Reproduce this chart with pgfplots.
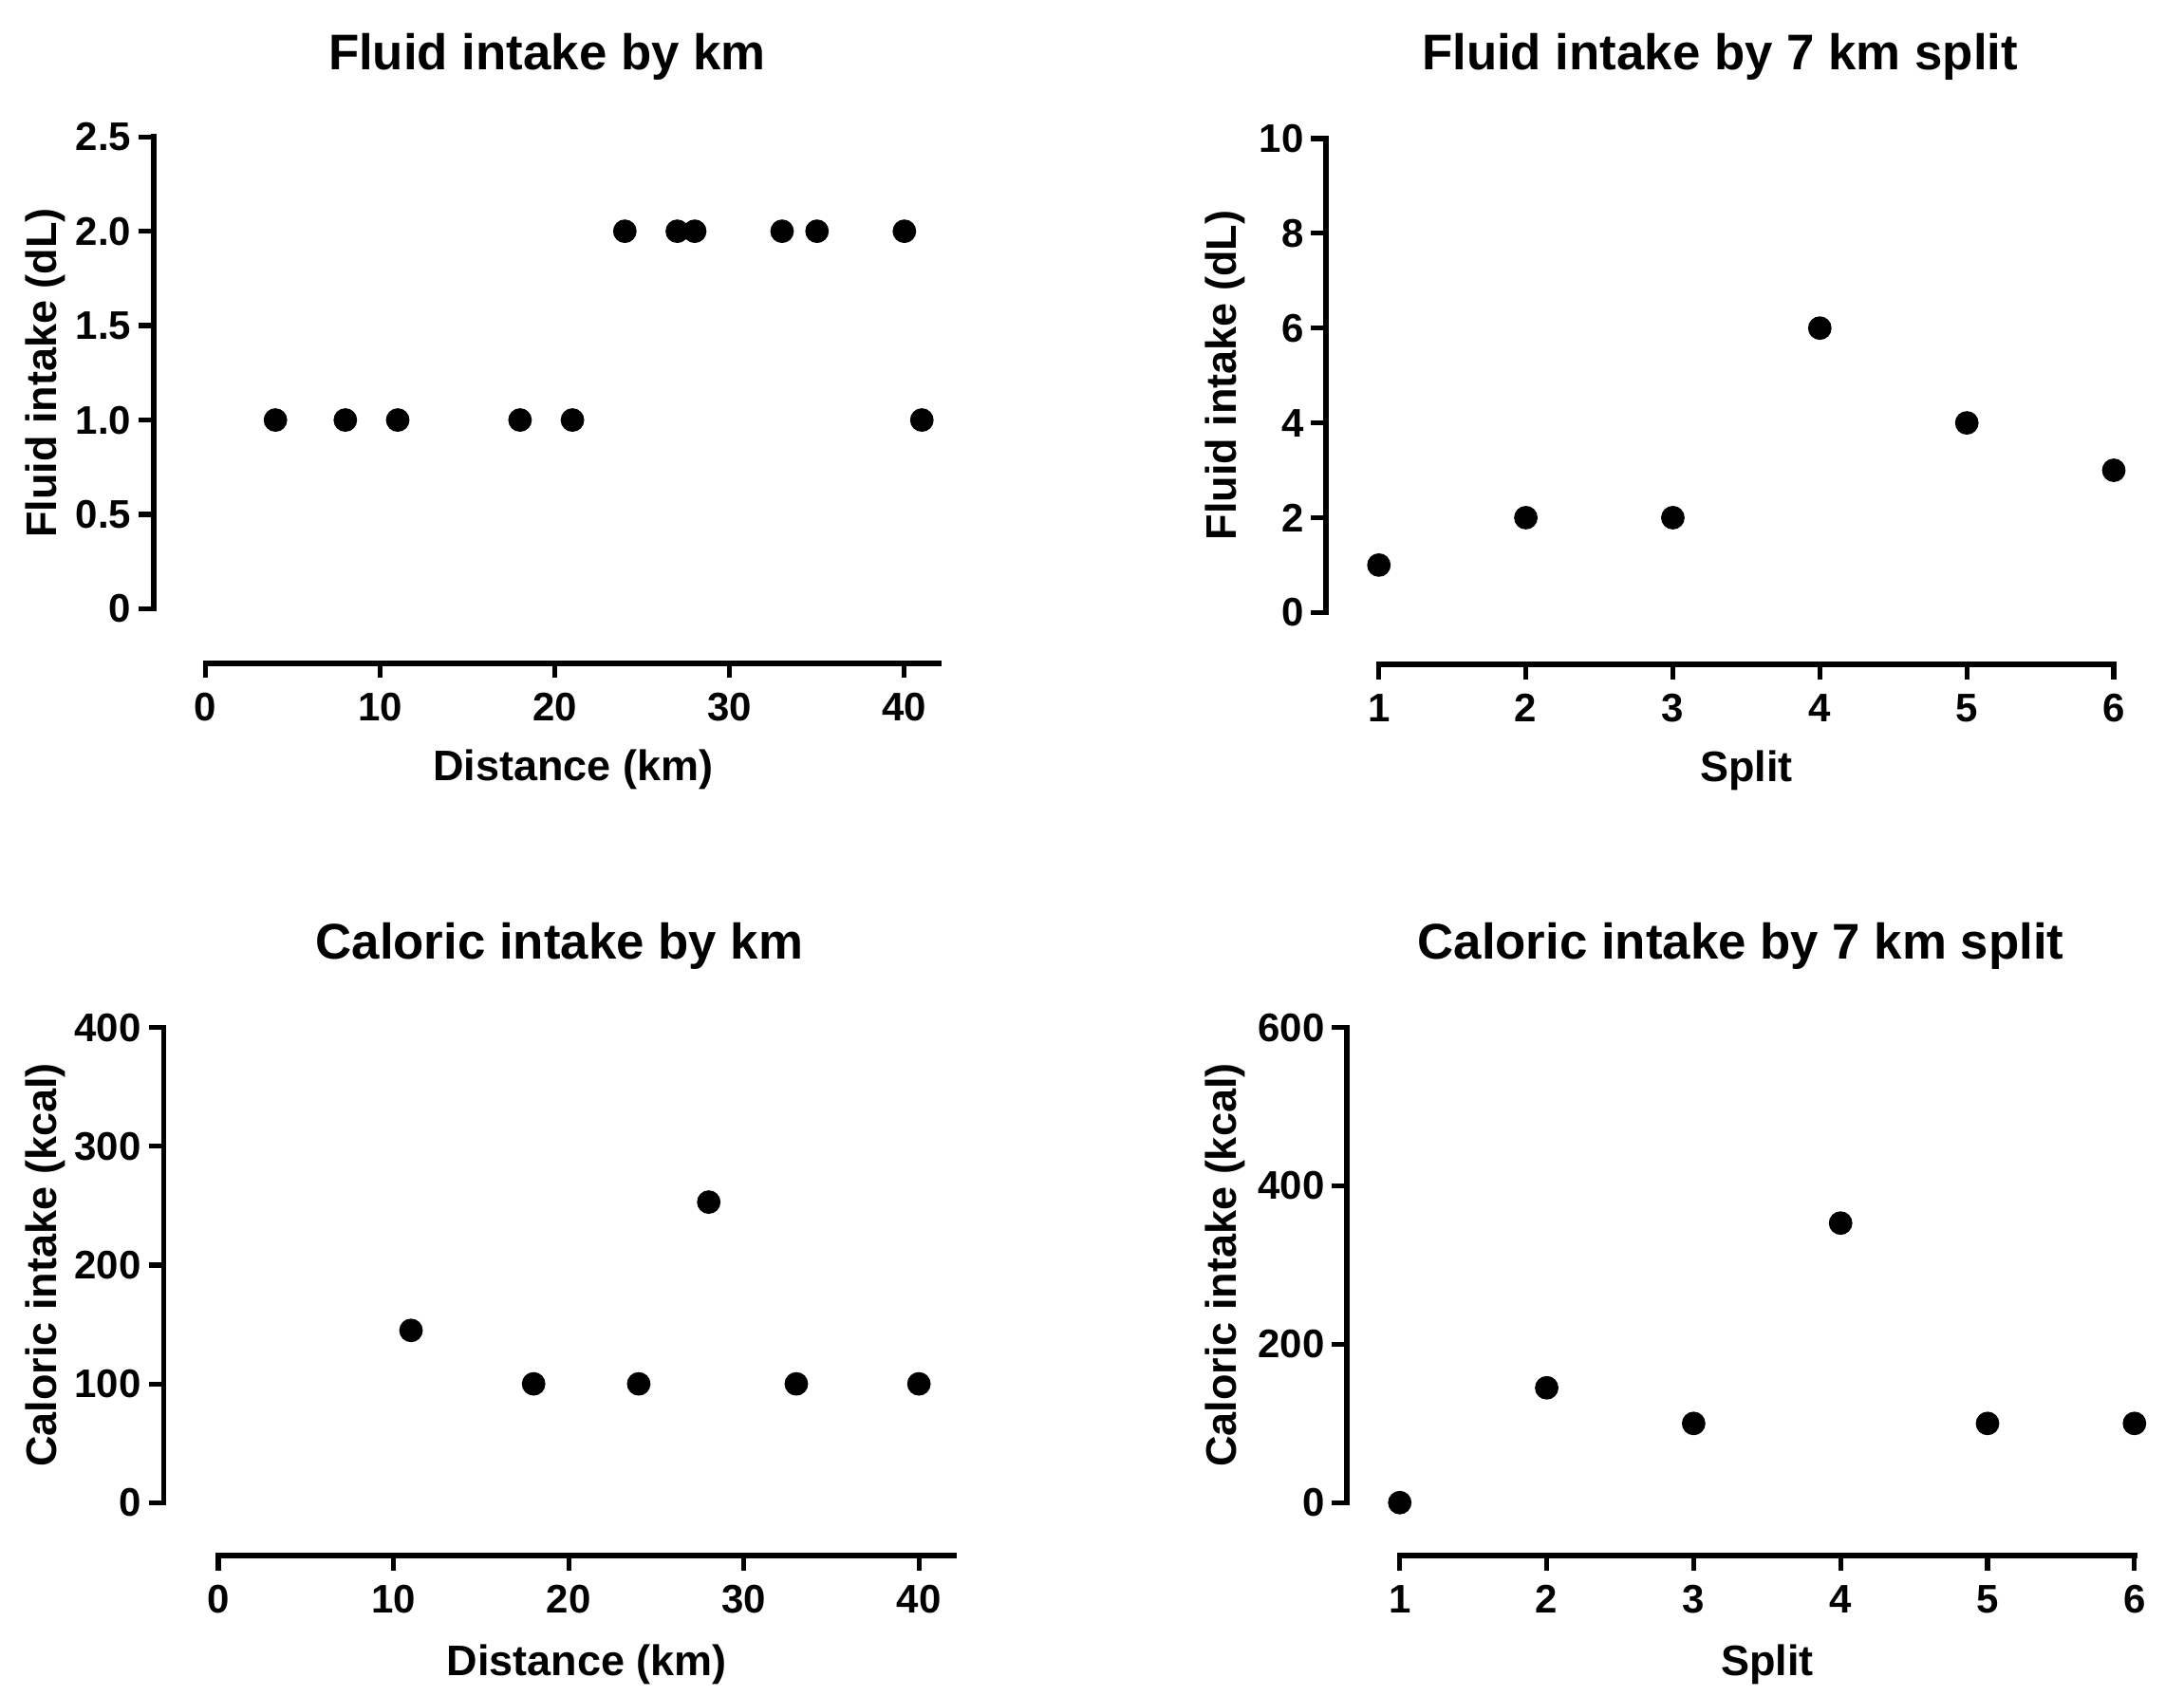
\documentclass[border=0pt]{standalone}
\usepackage{fontspec}
\setmainfont{Liberation Sans}
\usepackage{pgfplots}
\pgfplotsset{compat=1.18}
\pgfplotsset{
  prism/.style={
    scale only axis,
    axis lines*=left,
    axis line style={draw=none},
    clip=false,
    tick align=outside,
    major tick length=3.9pt,
    tick style={line width=1.3pt, black},
    minor tick num=0,
    tick label style={font=\fontsize{10.5}{12}\selectfont\bfseries},
    xticklabel style={anchor=north, inner sep=0pt, yshift=-3.7pt},
    yticklabel style={anchor=east, inner sep=0pt, xshift=-1.8pt},
    title style={font=\fontsize{13.2}{15}\selectfont\bfseries, anchor=base, inner sep=0pt},
    label style={font=\fontsize{11.25}{13}\selectfont\bfseries, inner sep=0pt},
    /pgf/number format/assume math mode=true,
  },
  dots/.style={only marks, mark=*, mark size=2.9pt, color=black, mark options={fill=black, draw=black}},
}
\tikzset{aline/.style={line width=1.4pt, line cap=rect, black}}
\begin{document}
\begin{tikzpicture}
\path[use as bounding box] (0,0) rectangle (575.25pt,446.75pt);

% Top left
\begin{axis}[prism, at={(40.43pt,272.05pt)}, anchor=south west,
  width=207.3pt, height=138.65pt,
  xmin=-2.98, xmax=42.07, ymin=-0.288, ymax=2.5,
  xtick={0,10,20,30,40}, xticklabels={0,10,20,30,40},
  ytick={0,0.5,1,1.5,2,2.5}, yticklabels={0,0.5,1.0,1.5,2.0,2.5},
  title={Fluid intake by km},
  title style={at={(axis description cs:0.5,1.085)}},
  xlabel={Distance (km)}, ylabel={Fluid intake (dL)},
  xlabel style={at={(axis description cs:0.533,-0.2236)}, anchor=base},
  ylabel style={at={(axis description cs:-0.1235,0.5517)}, anchor=base}]
\addplot[dots] coordinates {(4,1) (8,1) (11,1) (18,1) (21,1) (24,2) (27,2) (28,2) (33,2) (35,2) (40,2) (41,1)};
\draw[aline] (axis cs:-2.98,0) -- (axis cs:-2.98,2.5);
\draw[aline] (axis cs:0,-0.288) -- (axis cs:42.0,-0.288);
\end{axis}

% Top right
\begin{axis}[prism, at={(349.25pt,271.75pt)}, anchor=south west,
  width=207.5pt, height=138.5pt,
  xmin=0.64, xmax=6, ymin=-1.095, ymax=10,
  xtick={1,2,3,4,5,6}, xticklabels={1,2,3,4,5,6},
  ytick={0,2,4,6,8,10}, yticklabels={0,2,4,6,8,10},
  title={Fluid intake by 7 km split},
  title style={at={(axis description cs:0.5,1.088)}},
  xlabel={Split}, ylabel={Fluid intake (dL)},
  xlabel style={at={(axis description cs:0.5336,-0.2238)}, anchor=base},
  ylabel style={at={(axis description cs:-0.1137,0.5493)}, anchor=base}]
\addplot[dots] coordinates {(1,1) (2,2) (3,2) (4,6) (5,4) (6,3)};
\draw[aline] (axis cs:0.64,0) -- (axis cs:0.64,10);
\draw[aline] (axis cs:1,-1.095) -- (axis cs:6,-1.095);
\end{axis}

% Bottom left
\begin{axis}[prism, at={(43.08pt,37.0pt)}, anchor=south west,
  width=208.5pt, height=139.1pt,
  xmin=-3.13, xmax=42.07, ymin=-44.5, ymax=400,
  xtick={0,10,20,30,40}, xticklabels={0,10,20,30,40},
  ytick={0,100,200,300,400}, yticklabels={0,100,200,300,400},
  title={Caloric intake by km},
  title style={at={(axis description cs:0.5,1.087)}},
  xlabel={Distance (km)}, ylabel={Caloric intake (kcal)},
  xlabel style={at={(axis description cs:0.5346,-0.2265)}, anchor=base},
  ylabel style={at={(axis description cs:-0.1353,0.55)}, anchor=base}]
\addplot[dots] coordinates {(11,145) (18,100) (24,100) (28,253) (33,100) (40,100)};
\draw[aline] (axis cs:-3.13,0) -- (axis cs:-3.13,400);
\draw[aline] (axis cs:0,-44.5) -- (axis cs:42.0,-44.5);
\end{axis}

% Bottom right
\begin{axis}[prism, at={(354.75pt,37.0pt)}, anchor=south west,
  width=207.45pt, height=139.1pt,
  xmin=0.64, xmax=6, ymin=-66.8, ymax=600,
  xtick={1,2,3,4,5,6}, xticklabels={1,2,3,4,5,6},
  ytick={0,200,400,600}, yticklabels={0,200,400,600},
  title={Caloric intake by 7 km split},
  title style={at={(axis description cs:0.5,1.087)}},
  xlabel={Split}, ylabel={Caloric intake (kcal)},
  xlabel style={at={(axis description cs:0.5336,-0.2265)}, anchor=base},
  ylabel style={at={(axis description cs:-0.1403,0.55)}, anchor=base}]
\addplot[dots] coordinates {(1,0) (2,145) (3,100) (4,353) (5,100) (6,100)};
\draw[aline] (axis cs:0.64,0) -- (axis cs:0.64,600);
\draw[aline] (axis cs:1,-66.8) -- (axis cs:6,-66.8);
\end{axis}
\end{tikzpicture}
\end{document}
